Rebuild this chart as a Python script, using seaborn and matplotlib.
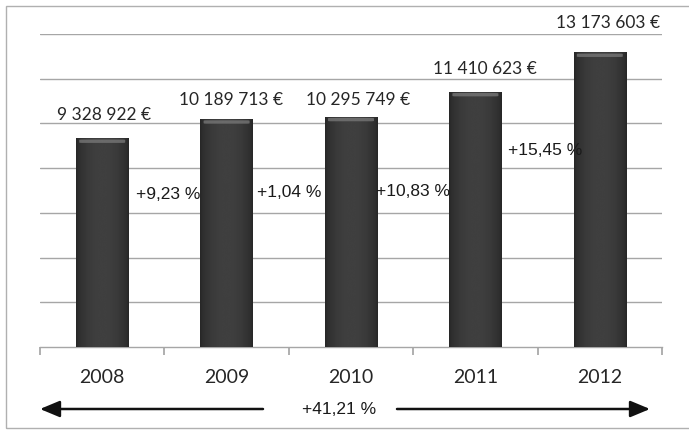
import numpy as np
import pandas as pd
import matplotlib
matplotlib.use("Agg")
import matplotlib.pyplot as plt
import matplotlib.patches as mpatches
import seaborn as sns

years = ["2008", "2009", "2010", "2011", "2012"]
revenues = [9328922, 10189713, 10295749, 11410623, 13173603]
value_labels = ["9 328 922 €", "10 189 713 €", "10 295 749 €", "11 410 623 €", "13 173 603 €"]
growth_labels = ["+9,23 %", "+1,04 %", "+10,83 %", "+15,45 %"]
total_growth = "+41,21 %"

sns.set_theme(style="white")
plt.rcParams['font.family'] = ['Lato', 'DejaVu Sans']

W, H = 689, 430
fig = plt.figure(figsize=(W / 100, H / 100), dpi=100)
ax = fig.add_axes([40 / W, (H - 347) / H, (662 - 40) / W, (347 - 34) / H])

df = pd.DataFrame({"year": years, "revenue": revenues})
sns.barplot(data=df, x="year", y="revenue", color="#333333", width=0.42,
            saturation=1, ax=ax, zorder=3)

ax.set_xlim(-0.5, 4.5)
ax.set_ylim(0, 14_000_000)

# gradient shading on bars
grad = np.linspace(0, 1, 64)
shade = 0.15 + 0.10 * np.sin(np.pi * grad) ** 0.6
img = np.tile(shade, (2, 1))
for bar in ax.patches:
    x0, w = bar.get_x(), bar.get_width()
    h = bar.get_height()
    bar.set_edgecolor("none")
    im = ax.imshow(img, cmap="gray", vmin=0, vmax=1, aspect="auto",
                   extent=(x0, x0 + w, 0, h), zorder=4, interpolation="bicubic")
    im.set_clip_path(bar)
    # bevel top
    cap = mpatches.FancyBboxPatch((x0 + w * 0.06, h - 200000), w * 0.88, 150000,
                                  boxstyle="round,pad=0,rounding_size=0.02",
                                  mutation_aspect=1e6,
                                  facecolor="#7a7a7a", edgecolor="none", zorder=5, alpha=0.75)
    ax.add_patch(cap)

# gridlines
for yv in range(2_000_000, 14_000_001, 2_000_000):
    ax.axhline(yv, color="#a6a6a6", lw=1.0, zorder=1)

for s in ["top", "right", "left"]:
    ax.spines[s].set_visible(False)
ax.spines["bottom"].set_color("#a6a6a6")
ax.spines["bottom"].set_linewidth(1.0)
ax.set_yticks([])
ax.set_ylabel("")
ax.set_xlabel("")

# ticks at category boundaries, labels at centers
ax.set_xticks(np.arange(-0.5, 5.0, 1.0))
ax.set_xticklabels([])
ax.tick_params(axis="x", which="major", length=6, color="#a6a6a6", direction="out", bottom=True)
ax.set_xticks(np.arange(5), minor=True)
ax.set_xticklabels(years, minor=True, fontsize=14, color="#262626")
ax.tick_params(axis="x", which="minor", length=0, pad=16)

# value labels
offsets_y = [17, 14, 12, 16.5, 21.5]
offsets_x = [1, 3, 5, 7, 6]
for i, (v, lab) in enumerate(zip(revenues, value_labels)):
    ax.annotate(lab, (i, v), xytext=(offsets_x[i], offsets_y[i]), textcoords="offset points",
                ha="center", va="center", fontsize=12.5, color="#262626", zorder=6)

# growth labels at boundaries
growth_y = [6_800_000, 6_900_000, 6_950_000, 8_780_000]
growth_dx = [0.03, 0.0, 0.0, 0.06]
for i, lab in enumerate(growth_labels):
    ax.text(i + 0.5 + growth_dx[i], growth_y[i], lab, ha="center", va="center", fontsize=12.5,
            family=["Liberation Sans", "DejaVu Sans"], color="#1a1a1a", zorder=7)

# bottom arrows and total growth
ya = 1 - 409 / H
style = "-|>,head_length=12,head_width=5"
fig.patches.append(mpatches.FancyArrowPatch((263 / W, ya), (40 / W, ya), transform=fig.transFigure,
                                            arrowstyle=style, color="#111111", lw=1.8,
                                            mutation_scale=1, shrinkA=0, shrinkB=0))
fig.patches.append(mpatches.FancyArrowPatch((397 / W, ya), (650 / W, ya), transform=fig.transFigure,
                                            arrowstyle=style, color="#111111", lw=1.8,
                                            mutation_scale=1, shrinkA=0, shrinkB=0))
fig.text(339 / W, ya, total_growth, ha="center", va="center", fontsize=12.5,
         family=["Liberation Sans", "DejaVu Sans"], color="#1a1a1a")

# outer frame
fig.patches.append(mpatches.Rectangle((6 / W, 2 / H), (W + 5) / W, (H - 8) / H,
                                      transform=fig.transFigure, fill=False,
                                      edgecolor="#b0b0b0", lw=1.0))

fig.savefig("out.png", dpi=100)
